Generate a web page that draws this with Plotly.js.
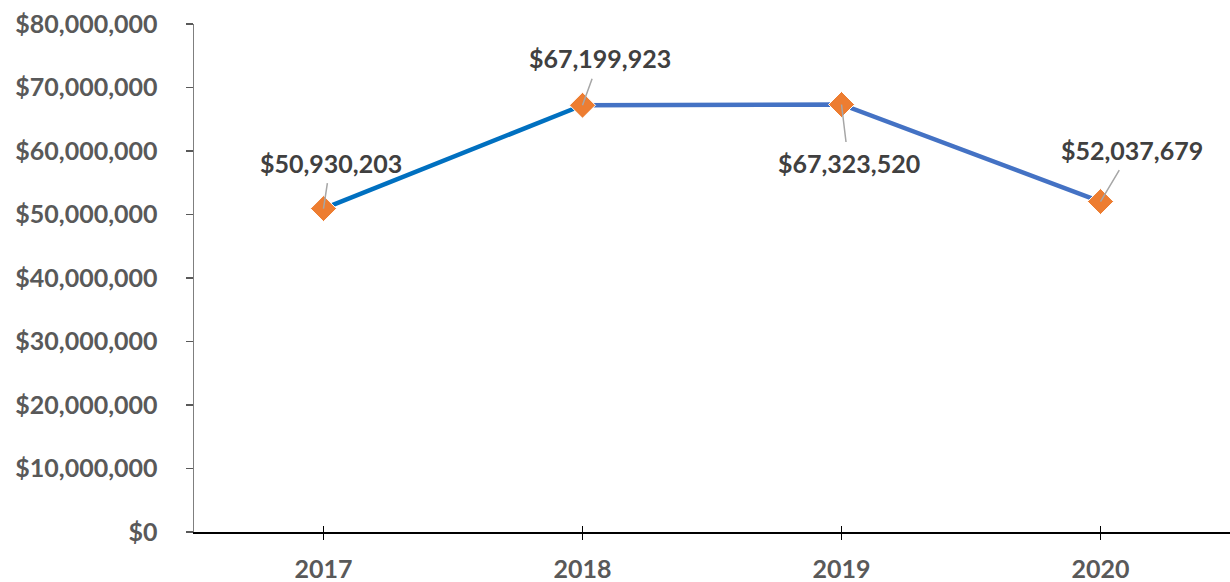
<!DOCTYPE html>
<html><head><meta charset="utf-8">
<script src="https://cdn.plot.ly/plotly-3.0.1.min.js"></script>
<style>html,body{margin:0;padding:0;background:#fff}#chart{width:1230px;height:582px}</style>
</head><body><div id="chart"></div>
<script>
var years = ['2017', '2018', '2019', '2020'];
var amounts = [50930203, 67199923, 67323520, 52037679];
var valueLabels = ['$50,930,203', '$67,199,923', '$67,323,520', '$52,037,679'];
var yTickVals = [0, 10000000, 20000000, 30000000, 40000000, 50000000, 60000000, 70000000, 80000000];
var yTickText = ['$0', '$10,000,000', '$20,000,000', '$30,000,000', '$40,000,000', '$50,000,000', '$60,000,000', '$70,000,000', '$80,000,000'];
var labelOffsets = [[7, -46], [17, -47], [7, 58], [31, -52]];

var FONT = 'Lato, "Open Sans", sans-serif';

var traces = [
  {x: years.slice(0, 2), y: amounts.slice(0, 2), type: 'scatter', mode: 'lines',
   line: {color: '#0070C0', width: 4.5}, hoverinfo: 'skip'},
  {x: years.slice(1), y: amounts.slice(1), type: 'scatter', mode: 'lines',
   line: {color: '#4472C4', width: 4.5}, hoverinfo: 'skip'},
  {x: years, y: amounts, type: 'scatter', mode: 'markers',
   marker: {symbol: 'diamond', size: 20, color: '#ED7D31', line: {color: '#ffffff', width: 1}}},
  {x: years, y: amounts, type: 'scatter', mode: 'markers', xaxis: 'x2',
   marker: {size: 1, opacity: 0}, hoverinfo: 'skip'}
];

var annotations = [];
for (var i = 0; i < years.length; i++) {
  annotations.push({x: i, y: amounts[i], xref: 'x', yref: 'y', text: '<b>' + valueLabels[i] + '</b>',
    showarrow: true, arrowhead: 0, arrowwidth: 1.5, arrowcolor: '#A6A6A6',
    ax: labelOffsets[i][0], ay: labelOffsets[i][1], standoff: 0, borderpad: 5,
    font: {family: FONT, size: 25, color: '#404040'}});
}

var layout = {
  width: 1230, height: 582,
  margin: {l: 194, r: 0, t: 24, b: 50},
  paper_bgcolor: '#ffffff', plot_bgcolor: '#ffffff',
  showlegend: false,
  xaxis: {type: 'category', range: [-0.5, 3.5], showgrid: false, zeroline: false,
    showline: true, linecolor: '#000000', linewidth: 1.5,
    ticks: 'outside', ticklen: 6, tickcolor: '#000000', tickwidth: 1.5,
    ticklabelstandoff: 8,
    tickfont: {family: FONT, size: 25, color: '#595959', weight: 'bold'}},
  xaxis2: {type: 'category', range: [-0.5, 3.5], overlaying: 'x', anchor: 'y', side: 'bottom',
    showgrid: false, zeroline: false, showline: false, showticklabels: false,
    ticks: 'inside', ticklen: 6, tickcolor: '#000000', tickwidth: 1.5},
  yaxis: {range: [0, 80000000], tickvals: yTickVals, ticktext: yTickText,
    showgrid: false, zeroline: false, showline: true, linecolor: '#7F7F7F', linewidth: 1.5,
    ticks: 'outside', ticklen: 7, tickcolor: '#595959', tickwidth: 1.5,
    ticklabelstandoff: 23,
    tickfont: {family: FONT, size: 25, color: '#595959', weight: 'bold'}},
  annotations: annotations
};

Plotly.newPlot('chart', traces, layout, {staticPlot: true, displayModeBar: false});
</script>
</body></html>
